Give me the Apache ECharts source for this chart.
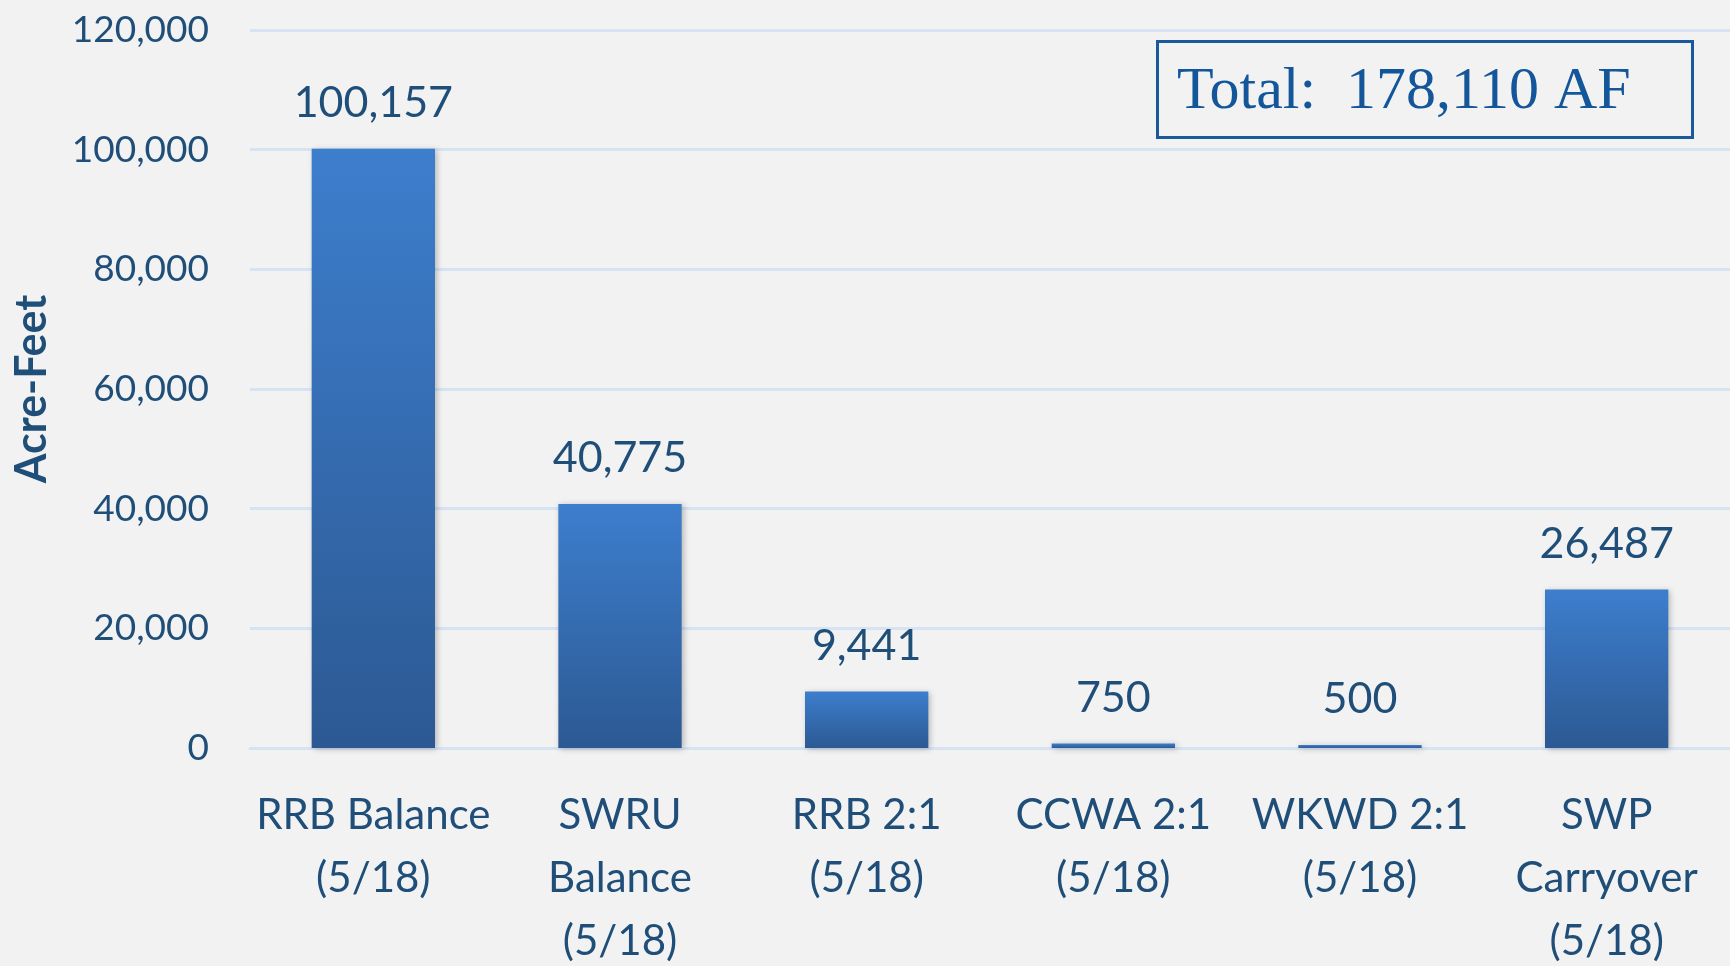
<!DOCTYPE html>
<html lang="en">
<head>
    <meta charset="UTF-8">
    <title>Acre-Feet</title>
    <script src="https://cdn.jsdelivr.net/npm/echarts@6/dist/echarts.min.js"></script>
    <style>
        html, body { margin: 0; padding: 0; background: #f2f2f2; }
        #container { width: 1730px; height: 966px; }
    </style>
</head>
<body>
<div id="container"></div>
<script>
    var categories = [
        'RRB Balance\n(5/18)',
        'SWRU\nBalance\n(5/18)',
        'RRB 2:1\n(5/18)',
        'CCWA 2:1\n(5/18)',
        'WKWD 2:1\n(5/18)',
        'SWP\nCarryover\n(5/18)'
    ];
    var values = [100157, 40775, 9441, 750, 500, 26487];
    var yTicks = [0, 20000, 40000, 60000, 80000, 100000, 120000];
    var totalText = 'Total:  178,110 AF';

    var textColor = '#1f4e79';
    var gridColor = '#d6e3f3';
    var sans = 'Lato';

    function fmt(v) {
        return String(v).replace(/\B(?=(\d{3})+(?!\d))/g, ',');
    }

    var options = {
        backgroundColor: '#f2f2f2',
        title: {
            text: totalText,
            left: 1157,
            top: 41,
            padding: [17, 62, 11, 20],
            borderWidth: 3,
            borderColor: '#1a5a9b',
            textStyle: {
                fontFamily: 'Liberation Serif',
                fontSize: 60,
                fontWeight: 'normal',
                color: '#13579a',
                lineHeight: 69
            }
        },
        grid: {
            left: 250,
            right: 0,
            top: 30,
            bottom: 218,
            outerBoundsMode: 'none'
        },
        xAxis: {
            type: 'category',
            data: categories,
            axisLine: { show: true, lineStyle: { color: gridColor, width: 3 } },
            axisTick: { show: false },
            axisLabel: {
                interval: 0,
                margin: 36,
                color: textColor,
                fontFamily: sans,
                fontSize: 42,
                lineHeight: 63
            }
        },
        yAxis: {
            type: 'value',
            min: yTicks[0],
            max: yTicks[yTicks.length - 1],
            interval: yTicks[1] - yTicks[0],
            name: 'Acre-Feet',
            nameLocation: 'middle',
            nameRotate: 90,
            nameGap: 196,
            nameTextStyle: {
                color: textColor,
                fontFamily: sans,
                fontWeight: 'bold',
                fontSize: 43
            },
            axisLine: { show: false },
            axisTick: { show: false },
            splitLine: { show: true, lineStyle: { color: gridColor, width: 3 } },
            axisLabel: {
                margin: 41,
                color: textColor,
                fontFamily: sans,
                fontSize: 37,
                formatter: function (v) { return fmt(v); }
            }
        },
        series: [
            {
                type: 'bar',
                data: values,
                barWidth: '50%',
                itemStyle: {
                    color: new echarts.graphic.LinearGradient(0, 0, 0, 1, [
                        { offset: 0, color: '#3d7ecd' },
                        { offset: 1, color: '#2c5993' }
                    ]),
                    shadowBlur: 6,
                    shadowColor: 'rgba(0,0,0,0.25)',
                    shadowOffsetX: 2,
                    shadowOffsetY: 1
                },
                label: {
                    show: true,
                    position: 'top',
                    distance: 24,
                    color: textColor,
                    fontFamily: sans,
                    fontSize: 43,
                    formatter: function (p) { return fmt(p.value); }
                }
            }
        ]
    };

    var myChart = echarts.init(document.getElementById('container'));
    myChart.setOption(options);
</script>
</body>
</html>
